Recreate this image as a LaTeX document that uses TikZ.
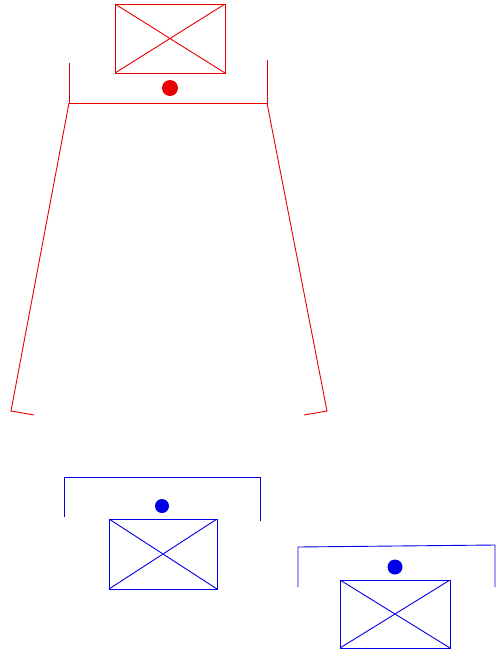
\documentclass[tikz,border=0pt]{standalone}
\usepackage{tikz}
\usetikzlibrary{positioning}
\definecolor{inkred}{HTML}{E80000}
\definecolor{inkblue}{HTML}{0000E8}
\tikzset{
  crossbox/.style={draw=#1,line width=0.9pt,inner sep=0pt,
                   minimum width=110pt,minimum height=69pt,
                   path picture={\draw[#1,line width=0.9pt]
                     (path picture bounding box.north west) --
                     (path picture bounding box.south east)
                     (path picture bounding box.south west) --
                     (path picture bounding box.north east);}},
  dotmark/.style={circle,fill=#1,draw=none,inner sep=0pt,minimum size=15pt},
  redline/.style={draw=inkred,line width=0.9pt},
  blueline/.style={draw=inkblue,line width=0.9pt}
}
\begin{document}
\begin{tikzpicture}[x=1pt,y=-1pt]
    \useasboundingbox (0,0) rectangle (498,654);
    % red group
    \node[crossbox=inkred] (redbox) at (170,38.5) {};
    \node[dotmark=inkred,minimum size=16pt] (reddot) at (170,88) {};
    \draw[redline] (69,63) -- (69,103) -- (267,103) -- (267,60);
    \draw[redline] (69,103) -- (11,411) -- (34,415);
    \draw[redline] (267,103) -- (327,411) -- (304,415);
    % blue group, left
    \node[crossbox=inkblue,minimum width=108pt,minimum height=70pt]
      (bluebox) at (163,554) {};
    \node[dotmark=inkblue,minimum size=14pt] (bluedot) at (162,506) {};
    \draw[blueline] (64,517) -- (64,477) -- (260,477) -- (260,521);
    % blue group, right
    \node[crossbox=inkblue,minimum height=68pt] (bluebox2) at (395,614) {};
    \node[dotmark=inkblue] (bluedot2) at (395,567) {};
    \draw[blueline] (298,587) -- (298,547) -- (495,545) -- (495,587);
  \end{tikzpicture}
\end{document}
